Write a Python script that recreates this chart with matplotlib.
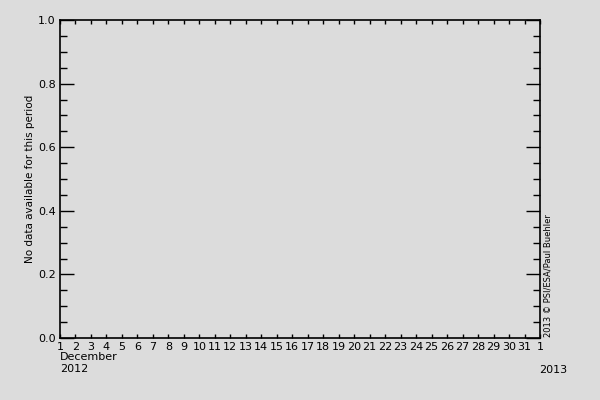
import matplotlib
matplotlib.use("Agg")
import matplotlib.pyplot as plt
from matplotlib.ticker import MultipleLocator

# x axis: days of December 2012, then 1 January 2013
day_labels = [str(d) for d in range(1, 32)] + ["1"]
day_pos = list(range(1, 33))
y_major = [0.0, 0.2, 0.4, 0.6, 0.8, 1.0]
y_label = "No data available for this period"
month_text = "December\n2012"
next_year = "2013"
credit = "2013 \u00a9 PSI/ESA/Paul Buehler"

bg = "#dcdcdc"
fs = 8

fig = plt.figure(figsize=(6, 4), dpi=100, facecolor=bg)
ax = fig.add_axes([60 / 600, 62 / 400, 480 / 600, 318 / 400], facecolor=bg)

ax.set_xlim(day_pos[0], day_pos[-1])
ax.set_ylim(0, 1)
ax.set_xticks(day_pos)
ax.set_xticklabels(day_labels, fontsize=fs)
ax.set_yticks(y_major)
ax.set_yticklabels([f"{v:.1f}" for v in y_major], fontsize=fs)
ax.yaxis.set_minor_locator(MultipleLocator(0.05))

ax.tick_params(axis="x", which="major", direction="in", length=3, width=1,
               top=True, bottom=True, pad=3)
ax.tick_params(axis="y", which="major", direction="in", length=10, width=1,
               left=True, right=True, pad=3)
ax.tick_params(axis="y", which="minor", direction="in", length=5, width=1,
               left=True, right=True)
for s in ax.spines.values():
    s.set_linewidth(1.2)

ax.set_ylabel(y_label, fontsize=7.5, labelpad=2)

fig.text(60 / 600, 1 - 352 / 400, month_text, fontsize=fs, ha="left", va="top",
         linespacing=1.2)
fig.text(553 / 600, 1 - 370 / 400, next_year, fontsize=fs, ha="center", va="center")
fig.text(548 / 600, 1 - 276 / 400, credit, fontsize=6, rotation=90,
         ha="center", va="center")

fig.savefig("out.png", dpi=100, facecolor=bg)
